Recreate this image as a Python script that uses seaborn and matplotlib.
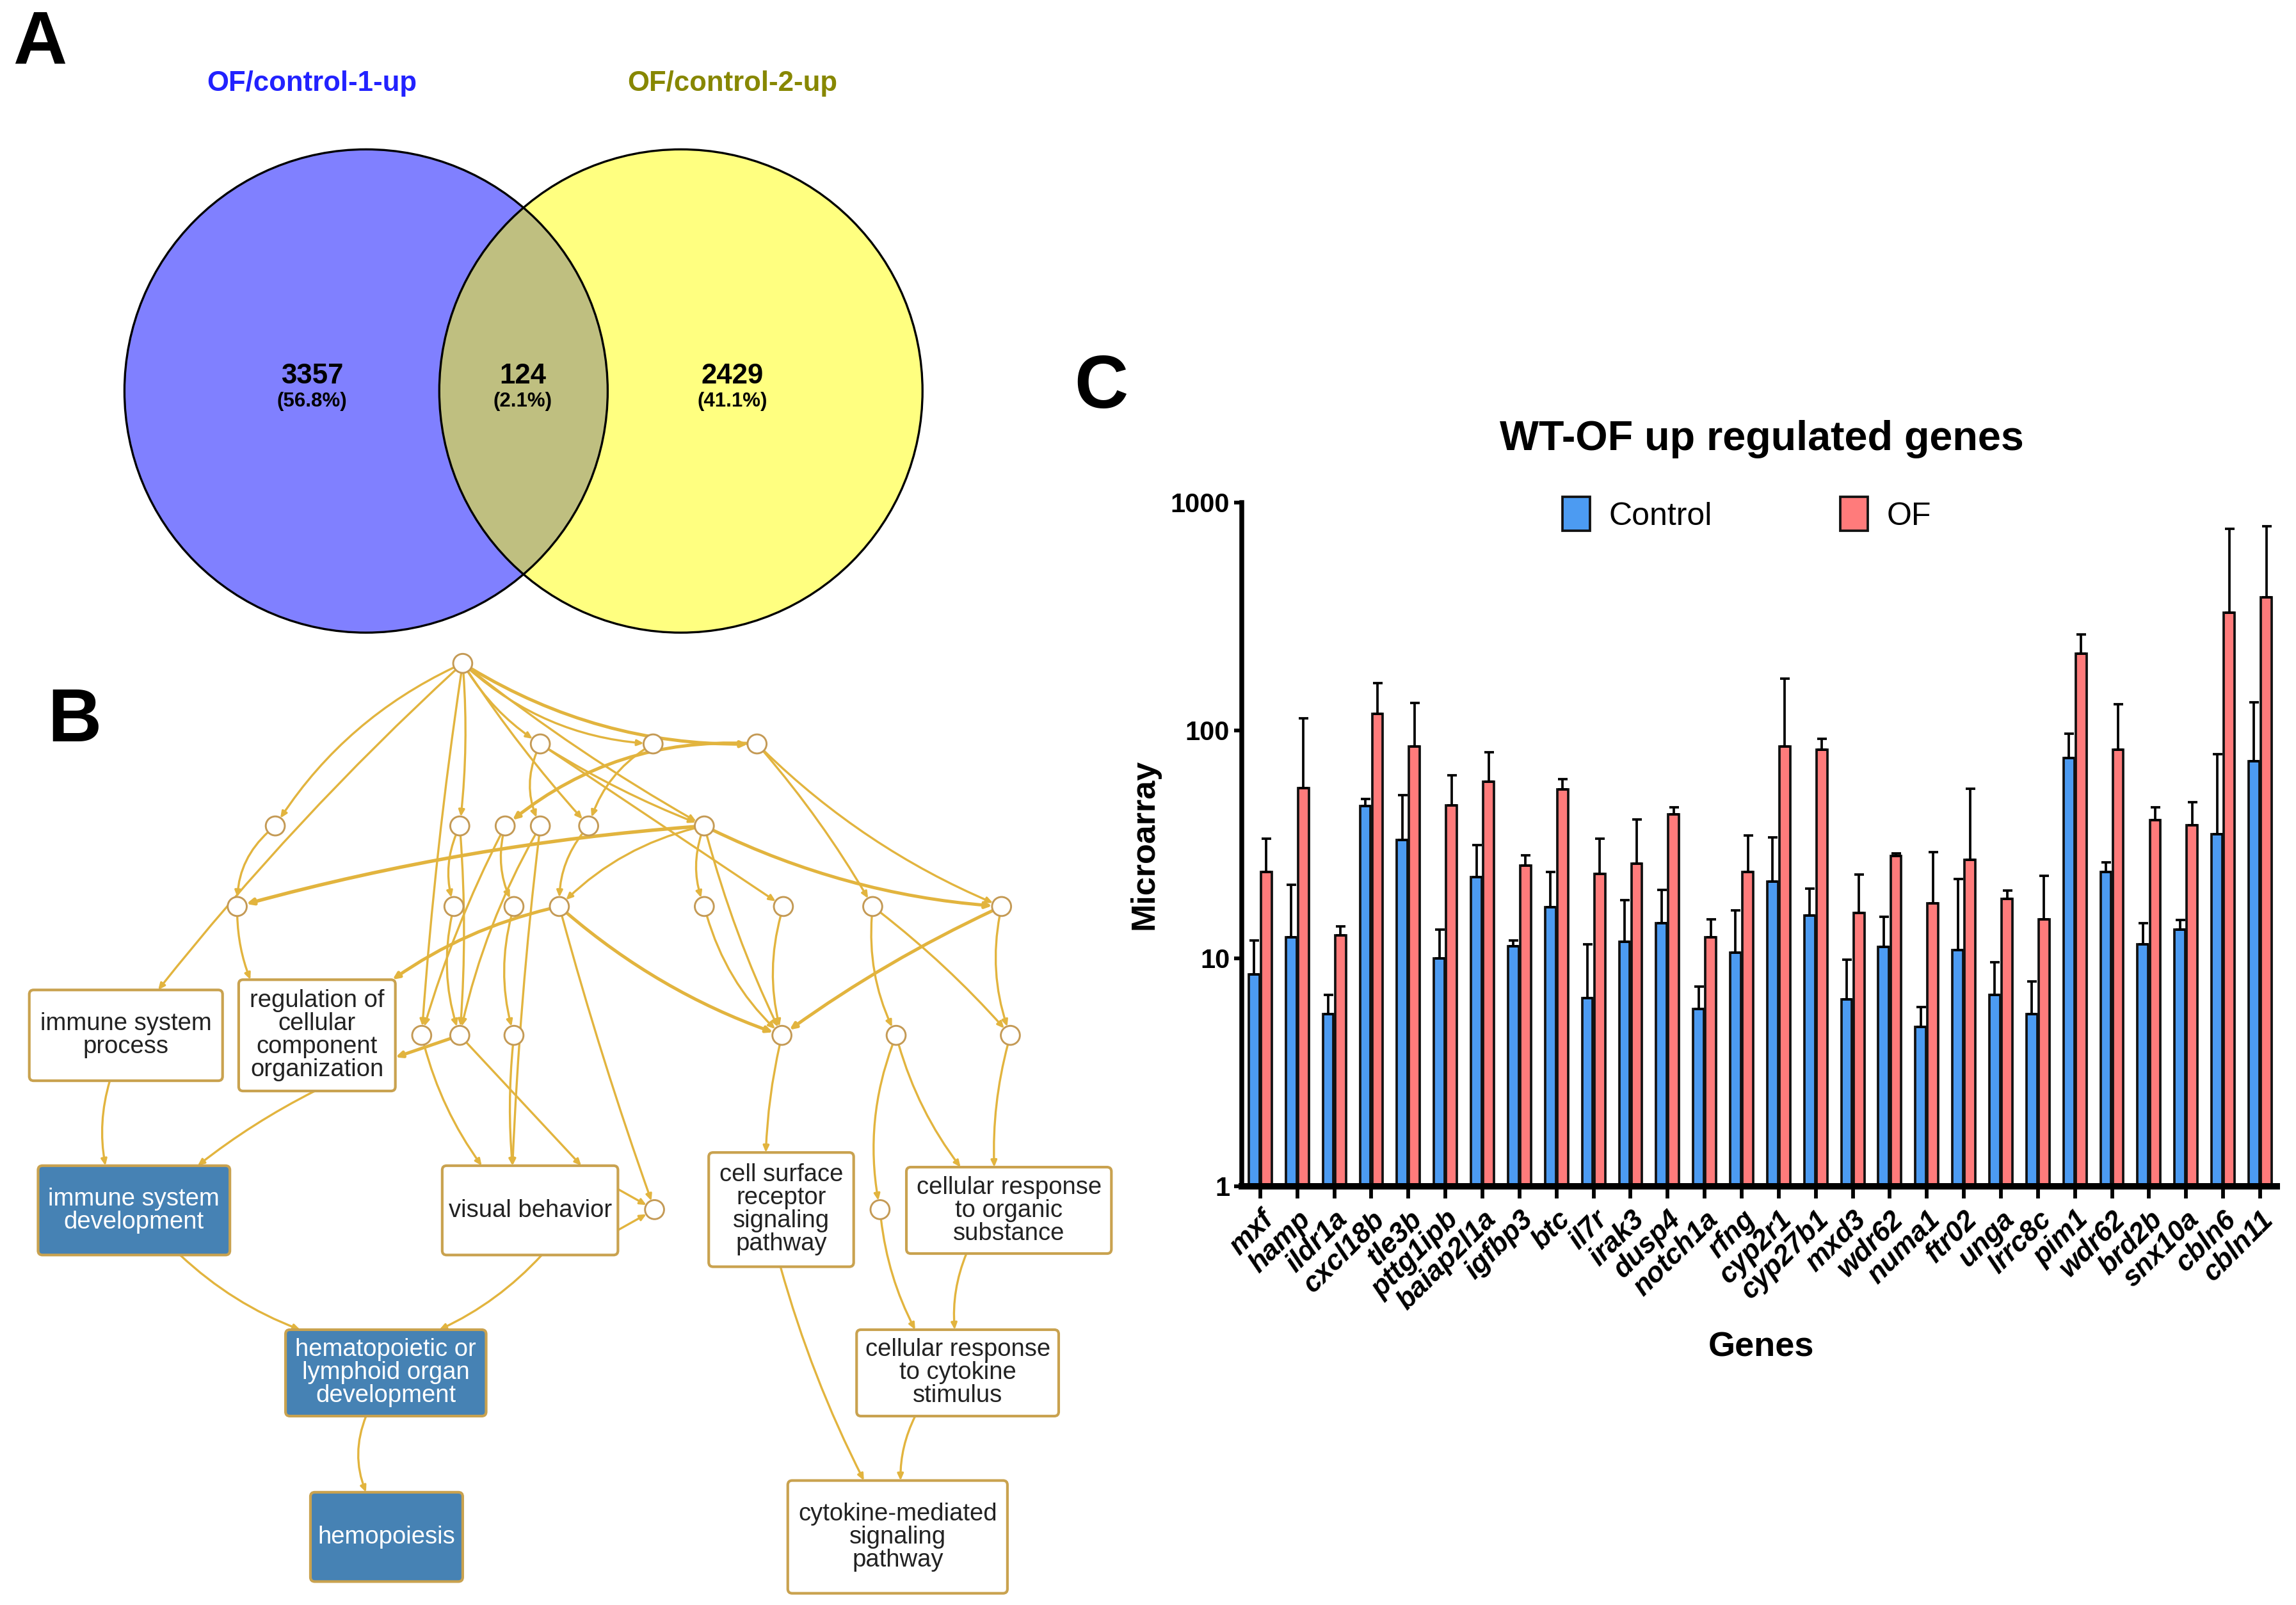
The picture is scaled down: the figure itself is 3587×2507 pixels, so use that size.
import numpy as np
import pandas as pd
import matplotlib
matplotlib.use("Agg")
import matplotlib.pyplot as plt
import seaborn as sns
from matplotlib.patches import Circle, FancyBboxPatch, FancyArrowPatch
from matplotlib.ticker import NullLocator

sns.set_style("ticks")
plt.rcParams["font.family"] = ["Liberation Sans", "DejaVu Sans"]
plt.rcParams["text.color"] = "black"
plt.rcParams["axes.labelcolor"] = "black"
plt.rcParams["xtick.color"] = "black"
plt.rcParams["ytick.color"] = "black"
plt.rcParams["axes.edgecolor"] = "black"

# ---------------- panel A: venn ----------------
venn_titles = ["OF/control-1-up", "OF/control-2-up"]
venn_counts = [3357, 124, 2429]
venn_pcts = ["56.8%", "2.1%", "41.1%"]

# ---------------- panel B: GO graph ----------------
# small unnamed GO nodes (layout coords)
go_nodes = {
    "r": (316, 453),
    "a1": (369, 508), "a2": (446, 508), "a3": (517, 508),
    "b1": (188, 564), "b2": (314, 564), "b3": (345, 564), "b4": (369, 564),
    "b5": (402, 564), "b6": (481, 564),
    "c1": (162, 619), "c2": (310, 619), "c3": (351, 619), "c4": (382, 619),
    "c5": (481, 619), "c6": (535, 619), "c7": (596, 619), "c8": (684, 619),
    "d1": (288, 707), "d2": (314, 707), "d3": (351, 707), "d4": (534, 707),
    "d5": (612, 707), "d6": (690, 707),
    "e1": (447, 826), "e2": (601, 826),
}
go_terms = ["immune system\nprocess",
            "regulation of\ncellular\ncomponent\norganization",
            "immune system\ndevelopment",
            "visual behavior",
            "cell surface\nreceptor\nsignaling\npathway",
            "cellular response\nto organic\nsubstance",
            "hematopoietic or\nlymphoid organ\ndevelopment",
            "cellular response\nto cytokine\nstimulus",
            "hemopoiesis",
            "cytokine-mediated\nsignaling\npathway"]
go_enriched = [False, False, True, False, False, False, True, False, True, False]
go_boxes = [(20, 676, 152, 738), (163, 669, 270, 745), (26, 796, 157, 857),
            (302, 796, 422, 857), (484, 787, 583, 865), (619, 797, 759, 856),
            (195, 908, 332, 967), (585, 908, 723, 967), (212, 1019, 316, 1080),
            (538, 1011, 688, 1088)]
# edges: (from, to, curvature, width); tuples are attach points on boxes
go_edges = [
    ("r", "b1", 0.15, 0.8), ("r", (108, 676), 0.04, 0.8), ("r", "d1", 0.02, 0.8),
    ("r", "b2", -0.05, 0.8), ("r", "a1", 0.12, 0.8), ("r", "b5", 0.04, 0.8),
    ("r", "b6", 0.04, 0.8), ("r", "a2", 0.18, 0.8), ("r", "a3", 0.15, 1.2),
    ("a1", "b4", 0.25, 0.8), ("a1", "c6", 0.0, 0.8), ("a1", "b6", 0.05, 0.8),
    ("a2", "b5", 0.2, 0.8), ("a3", "b3", 0.2, 1.2), ("a3", "c7", -0.05, 0.8),
    ("a3", "c8", 0.1, 0.8),
    ("b1", "c1", 0.25, 0.8), ("b6", "c1", 0.05, 1.3), ("b6", "c4", 0.15, 0.8),
    ("b6", "c5", 0.2, 0.8), ("b6", "c8", 0.1, 1.2), ("b6", "d4", 0.05, 0.8),
    ("b2", "c2", 0.2, 0.8), ("b2", "d2", -0.04, 0.8), ("b3", "c3", 0.2, 0.8),
    ("b3", "d1", 0.05, 0.8), ("b4", (350, 796), 0.02, 0.8), ("b5", "c4", 0.2, 0.8),
    ("b4", "d2", 0.08, 0.8),
    ("c1", (171, 669), 0.1, 0.8), ("c4", (268, 669), 0.1, 1.2),
    ("c2", "d2", 0.15, 0.8), ("c3", "d3", 0.15, 0.8), ("c4", "e1", 0.02, 0.8),
    ("c4", "d4", 0.1, 1.2), ("c5", "d4", 0.15, 0.8), ("c6", "d4", 0.15, 0.8),
    ("c8", "d4", 0.05, 1.2), ("c7", "d5", 0.15, 0.8), ("c7", "d6", -0.05, 0.8),
    ("c8", "d6", 0.15, 0.8),
    ("d2", (270, 722), 0.0, 1.2), ("d1", (329, 796), 0.1, 0.8),
    ("d3", (350, 796), 0.05, 0.8), ("d2", (397, 796), 0.0, 0.8),
    ("d4", (523, 787), 0.05, 0.8), ("d5", "e2", 0.15, 0.8),
    ("d5", (656, 797), 0.1, 0.8), ("d6", (679, 797), 0.08, 0.8),
    ((422, 812), "e1", 0.0, 0.8), ((422, 840), "e1", 0.0, 0.8),
    ((75, 738), (72, 796), 0.12, 0.8), ((215, 745), (135, 796), 0.05, 0.8),
    ((123, 857), (205, 908), 0.1, 0.8), ((370, 857), (300, 908), -0.1, 0.8),
    ((250, 967), (250, 1019), 0.2, 0.8), ((533, 865), (590, 1011), 0.05, 0.8),
    ("e2", (625, 908), 0.1, 0.8), ((660, 856), (652, 908), 0.12, 0.8),
    ((625, 967), (615, 1011), 0.12, 0.8),
]

# ---------------- panel C: microarray ----------------
genes = ["mxf", "hamp", "ildr1a", "cxcl18b", "tle3b", "pttg1ipb", "baiap2l1a",
         "igfbp3", "btc", "il7r", "irak3", "dusp4", "notch1a", "rfng", "cyp2r1",
         "cyp27b1", "mxd3", "wdr62", "numa1", "ftr02", "unga", "lrrc8c", "pim1",
         "wdr62", "brd2b", "snx10a", "cbln6", "cbln11"]
ctrl_mean = [8.5, 12.4, 5.7, 46.6, 33, 10, 22.8, 11.3, 16.8, 6.7, 11.8, 14.3, 6.0, 10.6,
             21.8, 15.4, 6.6, 11.2, 5.0, 10.9, 6.9, 5.7, 75.5, 24, 11.5, 13.4, 35, 73.3]
ctrl_sd = [3.5, 8.6, 1.2, 3.4, 19, 3.4, 8.6, 0.7, 7.2, 4.8, 6.2, 5.7, 1.5, 5.6,
           12.2, 4.9, 3.3, 4.0, 1.1, 11.4, 2.7, 2.2, 21.1, 2.4, 2.8, 1.3, 43.5, 59.7]
of_mean = [24, 56, 12.6, 118, 85, 47, 59.6, 25.5, 55, 23.5, 26, 42.8, 12.4, 24,
           85, 82.5, 15.8, 28.2, 17.4, 27, 18.3, 14.8, 218, 82.5, 40.4, 38.5, 328, 384]
of_sd = [9.5, 57, 1.2, 43, 47, 16.5, 20.4, 2.9, 6, 10, 14.8, 3.2, 2.4, 10.7,
         84, 9.5, 7.6, 0.7, 11.9, 28.6, 1.5, 8.3, 46, 47.5, 5.6, 9.9, 438, 401]

W, H = 1568, 1096
fig = plt.figure(figsize=(3587 / 300, 2507 / 300), dpi=300)
ov = fig.add_axes([0, 0, 1, 1])
ov.set_xlim(0, W)
ov.set_ylim(H, 0)
ov.axis("off")
ov.patch.set_alpha(0)

# panel letters
for letter, (x, y) in zip("ABC", [(27, 30), (51, 493), (752, 265)]):
    ov.text(x, y, letter, fontsize=28, fontweight="bold", ha="center", va="center")

# ---- venn
c1 = Circle((250, 267), 165, facecolor="#8080FF", edgecolor="none", zorder=1)
c2 = Circle((465, 267), 165, facecolor="#FFFF80", edgecolor="none", zorder=1)
ov.add_patch(c1)
ov.add_patch(c2)
inter = Circle((465, 267), 165, facecolor="#BFBF80", edgecolor="none", zorder=2)
ov.add_patch(inter)
inter.set_clip_path(c1)
for c in [(250, 267), (465, 267)]:
    ov.add_patch(Circle(c, 165, facecolor="none", edgecolor="black", lw=0.8, zorder=3))
ov.text(213, 57, venn_titles[0], color="#2222FF", fontsize=10.5, fontweight="bold",
        ha="center", va="center")
ov.text(500, 57, venn_titles[1], color="#878700", fontsize=10.5, fontweight="bold",
        ha="center", va="center")
for x, n, p in zip([213, 357, 500], venn_counts, venn_pcts):
    ov.text(x, 257, str(n), fontsize=10.5, fontweight="bold", ha="center", va="center", zorder=4)
    ov.text(x, 274, f"({p})", fontsize=7.5, fontweight="bold", ha="center", va="center", zorder=4)

# ---- GO graph
edge_c = "#E2B43E"
circ = {}
for k, (x, y) in go_nodes.items():
    p = Circle((x, y), 6.5, facecolor="white", edgecolor="#C49A55", lw=0.7, zorder=5)
    ov.add_patch(p)
    circ[k] = p

for label, box, hit in zip(go_terms, go_boxes, go_enriched):
    x0, y0, x1, y1 = box
    fb = FancyBboxPatch((x0, y0), x1 - x0, y1 - y0,
                        boxstyle="round,pad=0,rounding_size=3",
                        facecolor="#4682B4" if hit else "white",
                        edgecolor="#C9A24F", lw=1.0, zorder=5)
    ov.add_patch(fb)
    ov.text((x0 + x1) / 2, (y0 + y1) / 2, label, ha="center", va="center",
            fontsize=9.2, linespacing=1.0, color="white" if hit else "#222222", zorder=6)


def endpoint(k):
    if isinstance(k, str):
        return go_nodes[k], circ[k]
    return k, None


for a, b, rad, lw in go_edges:
    pa, patch_a = endpoint(a)
    pb, patch_b = endpoint(b)
    arr = FancyArrowPatch(pa, pb, connectionstyle=f"arc3,rad={rad}",
                          arrowstyle="-|>,head_length=0.2,head_width=0.09",
                          mutation_scale=10, color=edge_c, lw=lw,
                          patchA=patch_a, patchB=patch_b, shrinkA=0, shrinkB=0,
                          zorder=4)
    ov.add_patch(arr)

# ---- panel C bar chart
ov.text(1203, 300, "WT-OF up regulated genes", fontsize=15.5, fontweight="bold",
        ha="center", va="center")

n = len(genes)
df = pd.DataFrame({
    "pos": list(range(n)) * 2,
    "group": ["Control"] * n + ["OF"] * n,
    "value": ctrl_mean + of_mean,
})
axc = fig.add_axes([1940 / 3587, 1 - 1853 / 2507, (3557 - 1940) / 3587, (1853 - 785) / 2507])
sns.barplot(data=df, x="pos", y="value", hue="group", hue_order=["Control", "OF"],
            palette=["#4C9BF2", "#FF7B7B"], saturation=1, width=0.66, gap=0.12,
            errorbar=None, edgecolor="#111111", linewidth=0.9, ax=axc)
axc.set_yscale("log")

for cont, sd in zip(axc.containers, [ctrl_sd, of_sd]):
    xs = [b.get_x() + b.get_width() / 2 for b in cont]
    ys = [b.get_y() + b.get_height() for b in cont]
    axc.errorbar(xs, ys, yerr=[np.zeros(n), sd], fmt="none", ecolor="black",
                 elinewidth=0.9, capsize=1.8, capthick=0.9, zorder=3)

axc.set_ylim(1, 1000)
axc.set_xlim(-0.5, n - 0.55)
axc.set_yticks([1, 10, 100, 1000])
axc.set_yticklabels(["1", "10", "100", "1000"], fontsize=10, fontweight="bold")
axc.yaxis.set_minor_locator(NullLocator())
axc.set_xticks(range(n))
axc.set_xticklabels(genes, rotation=45, ha="right", va="top", rotation_mode="anchor",
                    fontsize=10.5, fontstyle="italic", fontweight="bold")
axc.tick_params(axis="x", length=4.5, width=1.4, pad=3)
axc.tick_params(axis="y", length=3, width=1.4, pad=1.5)
sns.despine(ax=axc)
axc.spines["left"].set_linewidth(1.8)
axc.spines["bottom"].set_linewidth(2.4)
axc.set_xlabel("Genes", fontsize=13, fontweight="bold")
axc.set_ylabel("Microarray", fontsize=12.5, fontweight="bold")
axc.xaxis.set_label_coords(0.502, -0.212)
axc.yaxis.set_label_coords(-0.079, 0.5)
axc.patch.set_alpha(0)

handles, labels = axc.get_legend_handles_labels()
axc.legend(handles, labels, loc="center", bbox_to_anchor=(1193 / W, 1 - 351 / H),
           bbox_transform=fig.transFigure, ncol=2, frameon=False, fontsize=12,
           handlelength=0.85, handleheight=1.25, handletextpad=0.6, columnspacing=4)

fig.savefig("out.png", dpi=300, facecolor="white")
